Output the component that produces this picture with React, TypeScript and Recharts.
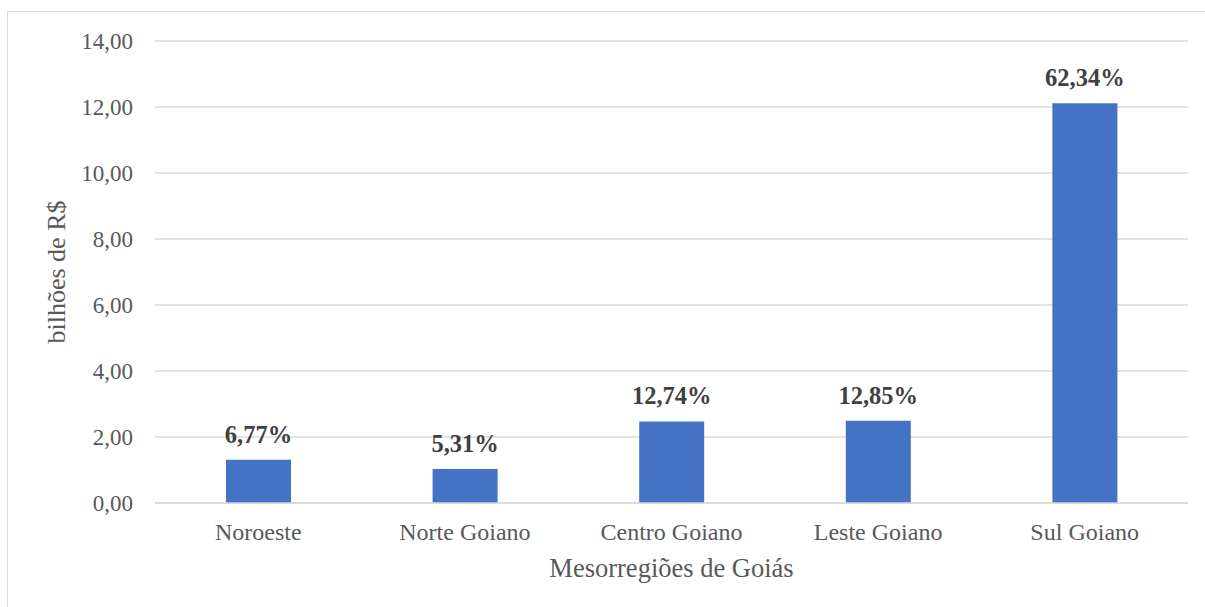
import React from "react";
import { BarChart, Bar, XAxis, YAxis, CartesianGrid, LabelList, Label } from "recharts";

const categories = ["Noroeste", "Norte Goiano", "Centro Goiano", "Leste Goiano", "Sul Goiano"];
const values = [1.31, 1.03, 2.47, 2.49, 12.11];
const shares = ["6,77%", "5,31%", "12,74%", "12,85%", "62,34%"];
const yTicks = [0, 2, 4, 6, 8, 10, 12, 14];

const data = categories.map((c, i) => ({ name: c, value: values[i], share: shares[i] }));

const FONT = '"Liberation Serif", "Times New Roman", serif';

const fmt = (v: number) => v.toFixed(2).replace(".", ",");

export default function App() {
  return (
    <div style={{ position: "fixed", left: 0, top: 0, width: 1205, height: 607, overflow: "hidden", background: "#fff" }}>
      <div style={{ position: "absolute", left: 0, top: 0 }}>
        <BarChart
          width={1205}
          height={607}
          data={data}
          margin={{ top: 41, right: 17, bottom: 24, left: 0 }}
          style={{ fontFamily: FONT }}
        >
          <CartesianGrid horizontal vertical={false} stroke="#d9d9d9" strokeWidth={1.3} />
          <XAxis
            dataKey="name"
            height={80}
            tickLine={false}
            axisLine={{ stroke: "#d9d9d9", strokeWidth: 1.3 }}
            tickMargin={14}
            tick={{ fill: "#595959", fontSize: 24, fontFamily: FONT }}
            interval={0}
          >
            <Label
              value="Mesorregiões de Goiás"
              position="insideBottom"
              offset={6}
              style={{ fill: "#595959", fontSize: 26.5, fontFamily: FONT }}
            />
          </XAxis>
          <YAxis
            width={155}
            domain={[0, 14]}
            ticks={yTicks}
            tickFormatter={fmt}
            tickLine={false}
            axisLine={false}
            tickMargin={16}
            interval={0}
            tick={{ fill: "#595959", fontSize: 23, fontFamily: FONT }}
          >
            <Label
              content={(props: any) => {
                const vb = props.viewBox || {};
                const cy = vb.y + vb.height / 2;
                const cx = 56;
                return (
                  <text
                    x={cx}
                    y={cy}
                    transform={`rotate(-90, ${cx}, ${cy})`}
                    textAnchor="middle"
                    dominantBaseline="central"
                    fill="#595959"
                    fontSize={26}
                    fontFamily={FONT}
                  >
                    bilhões de R$
                  </text>
                );
              }}
            />
          </YAxis>
          <Bar dataKey="value" fill="#4472C4" barSize={65} isAnimationActive={false}>
            <LabelList
              dataKey="share"
              position="top"
              offset={17}
              style={{ fill: "#404040", fontSize: 24.5, fontWeight: "bold", fontFamily: FONT }}
            />
          </Bar>
        </BarChart>
      </div>
      <div
        style={{
          position: "absolute",
          left: 7,
          top: 11,
          width: 1300,
          height: 800,
          borderLeft: "1.5px solid #d9d9d9",
          borderTop: "1.5px solid #d9d9d9",
          pointerEvents: "none",
        }}
      />
    </div>
  );
}
